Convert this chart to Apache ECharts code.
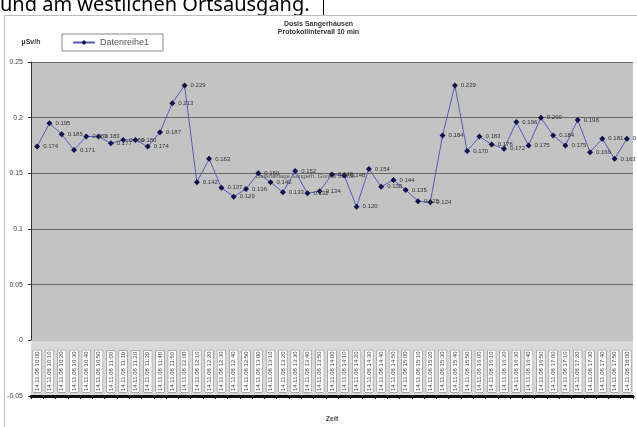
<!DOCTYPE html>
<html>
<head>
<meta charset="utf-8">
<script src="https://cdn.jsdelivr.net/npm/echarts@6/dist/echarts.min.js"></script>
<style>
	html, body { margin: 0; padding: 0; background: #fff; }
	#chart { width: 637px; height: 427px; }
</style>
</head>
<body>
<div id="chart"></div>
<script>
// Messzeitpunkte (10-min Protokoll)
var zeiten = [
	'14.11.08 10:00', '14.11.08 10:10', '14.11.08 10:20', '14.11.08 10:30', '14.11.08 10:40', '14.11.08 10:50',
	'14.11.08 11:00', '14.11.08 11:10', '14.11.08 11:20', '14.11.08 11:30', '14.11.08 11:40', '14.11.08 11:50',
	'14.11.08 12:00', '14.11.08 12:10', '14.11.08 12:20', '14.11.08 12:30', '14.11.08 12:40', '14.11.08 12:50',
	'14.11.08 13:00', '14.11.08 13:10', '14.11.08 13:20', '14.11.08 13:30', '14.11.08 13:40', '14.11.08 13:50',
	'14.11.08 14:00', '14.11.08 14:10', '14.11.08 14:20', '14.11.08 14:30', '14.11.08 14:40', '14.11.08 14:50',
	'14.11.08 15:00', '14.11.08 15:10', '14.11.08 15:20', '14.11.08 15:30', '14.11.08 15:40', '14.11.08 15:50',
	'14.11.08 16:00', '14.11.08 16:10', '14.11.08 16:20', '14.11.08 16:30', '14.11.08 16:40', '14.11.08 16:50',
	'14.11.08 17:00', '14.11.08 17:10', '14.11.08 17:20', '14.11.08 17:30', '14.11.08 17:40', '14.11.08 17:50',
	'14.11.08 18:00'
];

// Dosisleistung in µSv/h
var dosis = [
	0.174, 0.195, 0.185, 0.171, 0.183, 0.183, 0.177, 0.180, 0.180, 0.174,
	0.187, 0.213, 0.229, 0.142, 0.163, 0.137, 0.129, 0.136, 0.150, 0.142,
	0.133, 0.152, 0.132, 0.134, 0.149, 0.148, 0.120, 0.154, 0.138, 0.144,
	0.135, 0.125, 0.124, 0.184, 0.229, 0.170, 0.183, 0.176, 0.172, 0.196,
	0.175, 0.200, 0.184, 0.175, 0.198, 0.169, 0.181, 0.163, 0.181
];

var yMin = -0.05, yMax = 0.25, yStep = 0.05;

var chart = echarts.init(document.getElementById('chart'));

var option = {
	animation: false,
	backgroundColor: '#fff',
	title: {
		text: 'Dosis Sangerhausen\nProtokollintervall 10 min',
		left: 'center',
		top: 15,
		textStyle: { fontSize: 7, fontWeight: 'bold', color: '#333', lineHeight: 8, fontFamily: 'Liberation Sans' }
	},
	legend: {
		data: ['Datenreihe1'],
		left: 62,
		top: 34,
		padding: [4, 14, 4, 10],
		backgroundColor: '#fff',
		borderColor: '#888',
		borderWidth: 1,
		itemWidth: 22,
		itemHeight: 6,
		textStyle: { fontSize: 9, color: '#555', fontFamily: 'Liberation Sans' }
	},
	grid: {
		left: 31,
		right: 4,
		top: 62,
		bottom: 31,
		containLabel: false,
		outerBoundsMode: 'none',
		show: true,
		backgroundColor: '#c3c3c3',
		borderWidth: 0
	},
	xAxis: {
		type: 'category',
		data: zeiten,
		z: 10,
		boundaryGap: true,
		name: 'Zeit',
		nameLocation: 'middle',
		nameGap: 20,
		nameTextStyle: { fontSize: 7, fontWeight: 'bold', color: '#444', fontFamily: 'Liberation Sans' },
		axisLine: { onZero: false, lineStyle: { color: '#111', width: 3 } },
		axisTick: { show: true, length: 3, lineStyle: { color: '#111' } },
		axisLabel: {
			inside: true,
			interval: 0,
			rotate: 90,
			margin: 4,
			fontSize: 6,
			fontFamily: 'Liberation Sans',
			color: '#444',
			backgroundColor: '#fff',
			borderColor: '#777',
			borderWidth: 0.5,
			padding: [1, 1]
		}
	},
	yAxis: {
		type: 'value',
		min: yMin,
		max: yMax,
		interval: yStep,
		name: 'µSv/h',
		nameLocation: 'end',
		nameGap: 16,
		nameTextStyle: { fontSize: 7, fontWeight: 'bold', color: '#333', fontFamily: 'Liberation Sans' },
		axisLine: { show: true, lineStyle: { color: '#333' } },
		axisTick: { show: true, length: 3, lineStyle: { color: '#333' } },
		axisLabel: { fontSize: 7, color: '#444', margin: 8, fontFamily: 'Liberation Sans' },
		splitLine: { show: true, lineStyle: { color: '#666', width: 1 } }
	},
	graphic: [
		{
			type: 'text',
			left: 0,
			top: -5,
			style: { text: 'und am westlichen Ortsausgang.', font: '20px "Noto Sans"', fill: '#000' }
		},
		{
			type: 'line',
			shape: { x1: 323.5, y1: 0, x2: 323.5, y2: 15 },
			style: { stroke: '#000', lineWidth: 1 }
		},
		{
			type: 'rect',
			shape: { x: 4.5, y: 15.5, width: 700, height: 500 },
			style: { fill: 'none', stroke: '#bbb', lineWidth: 1 }
		},
		{
			type: 'text',
			left: 256,
			top: 173,
			style: { text: 'Datenanlage Sangerh. Gonna Straße', font: '6px "Liberation Sans"', fill: '#555' }
		}
	],
	series: [
		{
			name: 'Datenreihe1',
			type: 'line',
			data: dosis,
			symbol: 'diamond',
			symbolSize: 6,
			lineStyle: { color: '#5a5ab8', width: 1 },
			itemStyle: { color: '#10104a' },
			label: {
				show: true,
				position: 'right',
				distance: 3,
				fontSize: 6,
				color: '#333',
				fontFamily: 'Liberation Sans',
				formatter: function(p) { return p.value.toFixed(3); }
			},
			markArea: {
				silent: true,
				itemStyle: { color: '#d9d9d9' },
				data: [[{ yAxis: yMin }, { yAxis: 0 }]]
			}
		}
	]
};

chart.setOption(option);
</script>
</body>
</html>
